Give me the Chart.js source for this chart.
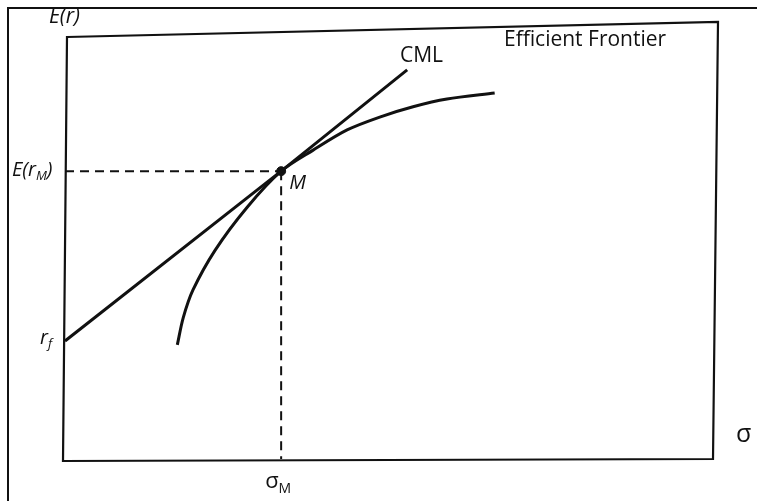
<!DOCTYPE html>
<html>
<head>
<meta charset="utf-8">
<script src="https://cdn.jsdelivr.net/npm/chart.js@4/dist/chart.umd.min.js"></script>
<style>
html,body{margin:0;padding:0;background:#fff;}
#wrap{width:757px;height:501px;position:relative;}
</style>
</head>
<body>
<div id="wrap"><canvas id="c" width="757" height="501"></canvas></div>
<script>
// Efficient frontier (sigma, E(r))
const frontierX = [17.2, 18.1, 19.6, 23.0, 27.9, 33.1, 38.0, 43.2, 48.2, 53.3, 58.5, 65.8];
const frontierY = [26.6, 32.9, 39.4, 48.7, 58.7, 67.1, 72.0, 76.7, 79.7, 82.1, 83.9, 85.3];
// Capital market line from r_f through M
const cmlX = [0, 33.1, 52.4];
const cmlY = [27.5, 67.1, 90.7];
// Market portfolio
const marketX = [33.1];
const marketY = [67.1];
// Axis labels
const axisLabels = { y: "E(r)", x: "σ", rf: "r", rfSub: "f", erm: "E(r", ermSub: "M", ermEnd: ")", sm: "σ", smSub: "M", m: "M" };
const seriesNames = ["CML", "Efficient Frontier"];

const toPts = (xs, ys) => xs.map((x, i) => ({ x: x, y: ys[i] }));

const FONT = '"Open Sans", "Noto Sans", sans-serif';

const decor = {
  id: 'decor',
  beforeDraw(chart) {
    const ctx = chart.ctx, xs = chart.scales.x, ys = chart.scales.y;
    ctx.save();
    // outer page border
    ctx.strokeStyle = '#111';
    ctx.lineWidth = 2;
    ctx.beginPath();
    ctx.moveTo(8, 510); ctx.lineTo(8, 8); ctx.lineTo(770, 8);
    ctx.stroke();
    // dashed guides
    const mx = xs.getPixelForValue(marketX[0]), my = ys.getPixelForValue(marketY[0]);
    ctx.setLineDash([9, 6]);
    ctx.lineWidth = 2;
    ctx.beginPath();
    ctx.moveTo(xs.getPixelForValue(0), my); ctx.lineTo(mx, my);
    ctx.moveTo(mx, my); ctx.lineTo(mx, ys.getPixelForValue(0));
    ctx.stroke();
    ctx.restore();
  },
  afterDraw(chart) {
    const ctx = chart.ctx, a = chart.chartArea, xs = chart.scales.x, ys = chart.scales.y;
    ctx.save();
    ctx.strokeStyle = '#111';
    ctx.lineWidth = 2.2;
    // scanned frame is slightly skewed
    ctx.beginPath();
    ctx.moveTo(a.left + 2, a.top + 7);
    ctx.lineTo(a.right, a.top - 8);
    ctx.lineTo(a.right - 5, a.bottom);
    ctx.lineTo(a.left - 2, a.bottom + 2);
    ctx.closePath();
    ctx.stroke();
    ctx.fillStyle = '#111';
    ctx.textBaseline = 'middle';
    const sub = (x, y, main, s, end, italic, size) => {
      ctx.font = (italic ? 'italic ' : '') + size + 'px ' + FONT;
      ctx.fillText(main, x, y);
      let w = ctx.measureText(main).width;
      ctx.font = (italic ? 'italic ' : '') + Math.round(size * 0.65) + 'px ' + FONT;
      ctx.fillText(s, x + w, y + size * 0.3);
      w += ctx.measureText(s).width;
      if (end) {
        ctx.font = (italic ? 'italic ' : '') + size + 'px ' + FONT;
        ctx.fillText(end, x + w, y);
      }
    };
    const mx = xs.getPixelForValue(marketX[0]), my = ys.getPixelForValue(marketY[0]);
    ctx.textAlign = 'left';
    // y axis title
    ctx.font = 'italic 21px ' + FONT;
    ctx.fillText(axisLabels.y, 49, 17);
    // E(r_M)
    sub(12, my - 1, axisLabels.erm, axisLabels.ermSub, axisLabels.ermEnd, true, 20);
    // r_f
    sub(40, ys.getPixelForValue(cmlY[0]) - 3, axisLabels.rf, axisLabels.rfSub, '', true, 20);
    // sigma_M
    sub(mx - 16, 482, axisLabels.sm, axisLabels.smSub, '', false, 22);
    // sigma
    ctx.font = '25px ' + FONT;
    ctx.fillText(axisLabels.x, 736, 435);
    // M
    ctx.font = 'italic 20px ' + FONT;
    ctx.fillText(axisLabels.m, mx + 8, my + 12);
    // series labels
    ctx.font = '21px ' + FONT;
    ctx.fillText(seriesNames[0], 400, 56);
    ctx.fillText(seriesNames[1], 504, 40);
    ctx.restore();
  }
};

new Chart(document.getElementById('c'), {
  type: 'scatter',
  data: {
    datasets: [
      { label: seriesNames[0], data: toPts(cmlX, cmlY), showLine: true, borderColor: '#111', borderWidth: 3, pointRadius: 0, tension: 0 },
      { label: seriesNames[1], data: toPts(frontierX, frontierY), showLine: true, borderColor: '#111', borderWidth: 3, pointRadius: 0, tension: 0.3 },
      { label: 'M', data: toPts(marketX, marketY), pointRadius: 4.5, backgroundColor: '#111', borderColor: '#111', showLine: false }
    ]
  },
  plugins: [decor],
  options: {
    responsive: false,
    animation: false,
    layout: { padding: { left: 65, top: 30, right: 39, bottom: 42 } },
    plugins: { legend: { display: false }, tooltip: { enabled: false } },
    scales: {
      x: { type: 'linear', min: 0, max: 100, display: false },
      y: { type: 'linear', min: 0, max: 100, display: false }
    }
  }
});
</script>
</body>
</html>
